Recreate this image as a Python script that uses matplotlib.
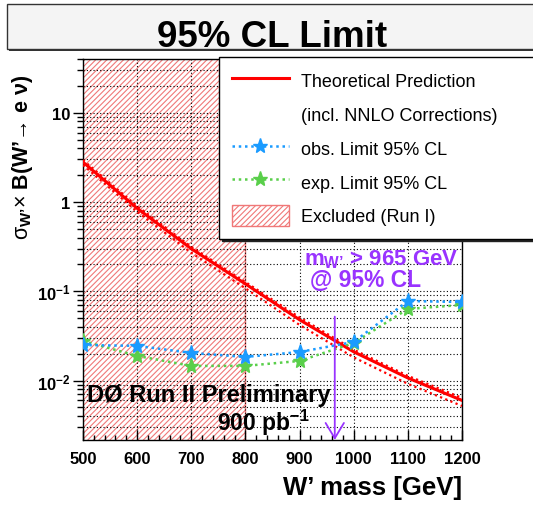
import matplotlib
matplotlib.use("Agg")
import matplotlib.pyplot as plt
from matplotlib.patches import Rectangle, Patch
from matplotlib.lines import Line2D
from matplotlib.ticker import FixedLocator, MultipleLocator, NullFormatter

plt.rcParams["font.family"] = ["Liberation Sans", "DejaVu Sans"]
plt.rcParams["mathtext.fontset"] = "custom"
plt.rcParams["mathtext.rm"] = "Liberation Sans"
plt.rcParams["mathtext.bf"] = "Liberation Sans:bold"
plt.rcParams["mathtext.it"] = "Liberation Sans:italic"
plt.rcParams["hatch.linewidth"] = 0.8

# --- data (W' mass in GeV, sigma x B in pb) ---
mass = [500, 600, 700, 800, 900, 1000, 1100, 1200]
theory = [2.8, 0.85, 0.30, 0.121, 0.048, 0.021, 0.0107, 0.0060]
theory_up = [2.95, 0.90, 0.315, 0.127, 0.051, 0.0222, 0.0113, 0.0064]
theory_dn = [2.6, 0.78, 0.27, 0.108, 0.042, 0.0182, 0.0092, 0.0052]
obs_limit = [0.0250, 0.0245, 0.0204, 0.0184, 0.0209, 0.0271, 0.0778, 0.0759]
exp_limit = [0.0278, 0.0189, 0.0146, 0.0146, 0.0166, 0.0264, 0.0634, 0.0703]
run1_excl = (500, 800)
mass_limit = 965

RED = "#ff0000"
HATCH = "#f07878"
BLUE = "#1a9bff"
GREEN = "#59cf4a"
VIOLET = "#9933ff"

fig = plt.figure(figsize=(5.33, 5.06), dpi=100)
W, H = 533.0, 506.0

# title box (ROOT pave with shadow)
fig.patches.append(Rectangle((9 / W, 1 - 52 / H), 1.0, 45 / H, transform=fig.transFigure,
                             facecolor="#333333", edgecolor="none"))
fig.patches.append(Rectangle((7 / W, 1 - 50 / H), 1.0, 45 / H, transform=fig.transFigure,
                             facecolor="#f4f4f4", edgecolor="#333333", lw=1.0))
fig.text(272 / W, 1 - 47 / H, "95% CL Limit", fontsize=26.5, fontweight="bold",
         ha="center", va="baseline")

ax = fig.add_axes([83 / W, 1 - 441 / H, 379 / W, 381 / H])
ax.set_yscale("log")
ax.set_xlim(500, 1200)
ax.set_ylim(0.00216, 40)

excl = ax.axvspan(*run1_excl, facecolor="none", edgecolor=HATCH, hatch="//////",
                  lw=0, zorder=1)
ax.axvline(run1_excl[1], color=HATCH, lw=1.0, zorder=1)

dots = (0, (1, 1.5))
ax.plot(mass, theory_up, color=RED, ls=dots, lw=1.6, zorder=3)
ax.plot(mass, theory_dn, color=RED, ls=dots, lw=1.6, zorder=3)
ax.plot(mass, theory, color=RED, lw=2.2, zorder=4)
ax.plot(mass, exp_limit, color=GREEN, ls=dots, lw=1.8, marker="*", ms=11, zorder=5)
ax.plot(mass, obs_limit, color=BLUE, ls=dots, lw=1.8, marker="*", ms=11, zorder=5)

ax.annotate("", xy=(mass_limit, 0.00216), xytext=(mass_limit, 0.052),
            arrowprops=dict(arrowstyle="->,head_length=0.55,head_width=0.33",
                            color=VIOLET, lw=1.3, shrinkA=0, shrinkB=0,
                            mutation_scale=20), zorder=6)
fig.text(459 / W, 1 - 265 / H, "m$_{\\mathbf{W’}}$ > 965 GeV", color=VIOLET,
         fontsize=16, fontweight="bold", ha="right", va="baseline")
fig.text(366 / W, 1 - 287 / H, "@ 95% CL", color=VIOLET, fontsize=16.5,
         fontweight="bold", ha="center", va="baseline")
fig.text(87 / W, 1 - 402 / H, "DØ Run II Preliminary", fontsize=17,
         fontweight="bold", ha="left", va="baseline")
fig.text(310 / W, 1 - 431 / H, "900 pb$^{\\mathbf{-1}}$", fontsize=16.5,
         fontweight="bold", ha="right", va="baseline")

# grid and ticks
ax.xaxis.set_major_locator(MultipleLocator(100))
ax.xaxis.set_minor_locator(MultipleLocator(20))
ax.yaxis.set_major_locator(FixedLocator([0.01, 0.1, 1, 10]))
minors = [m * 10.0 ** e for e in range(-3, 2) for m in range(2, 10)]
ax.yaxis.set_minor_locator(FixedLocator(minors))
ax.yaxis.set_minor_formatter(NullFormatter())
ax.set_yticklabels(["10$^{\\mathbf{-2}}$", "10$^{\\mathbf{-1}}$", "1", "10"])
ax.grid(which="major", ls=(0, (1, 2)), color="k", lw=0.8)
ax.grid(which="minor", axis="y", ls=(0, (1, 2)), color="k", lw=0.8)
ax.tick_params(axis="x", which="major", direction="in", length=7, width=1,
               labelsize=12, pad=8)
ax.tick_params(axis="x", which="minor", direction="in", length=3.5, width=1)
ax.tick_params(axis="y", which="major", direction="out", length=7, width=1,
               labelsize=12, pad=2)
ax.tick_params(axis="y", which="minor", direction="out", length=4, width=1)
for lab in ax.get_xticklabels() + ax.get_yticklabels():
    lab.set_fontweight("bold")
for sp in ax.spines.values():
    sp.set_linewidth(1.0)

ax.set_xlabel("W’ mass [GeV]", fontsize=18.5, fontweight="bold", loc="right", va="center")
ax.xaxis.set_label_coords(1.0, -(488 - 441) / 381)
ax.set_ylabel(r"$\mathrm{\sigma}_{\mathbf{W’}}\mathrm{\times}$ B(W’→ e ν)",
              fontsize=15.5, fontweight="bold", va="center")
ax.yaxis.set_label_coords(-(83 - 23) / 379, (441 - 157) / 381)

handles = [
    Line2D([], [], color=RED, lw=2.2),
    Line2D([], [], color="none"),
    Line2D([], [], color=BLUE, ls=dots, lw=1.8, marker="*", ms=11),
    Line2D([], [], color=GREEN, ls=dots, lw=1.8, marker="*", ms=11),
    Patch(facecolor="none", edgecolor=HATCH, hatch="//////", lw=1.0),
]
labels = ["Theoretical Prediction", "(incl. NNLO Corrections)", "obs. Limit 95% CL",
          "exp. Limit 95% CL", "Excluded (Run I)"]
leg = ax.legend(handles, labels, loc="upper left", mode="expand",
                bbox_to_anchor=(219 / W, 0.0, 340 / W, 1 - 58 / H),
                bbox_transform=fig.transFigure, borderaxespad=0, fontsize=13,
                handlelength=3.15, handleheight=1.4, handletextpad=0.7,
                labelspacing=0.72, borderpad=0.7, fancybox=False, framealpha=1,
                edgecolor="black", shadow={"color": "#222222", "alpha": 1})
leg.get_frame().set_linewidth(1.0)
leg.set_zorder(10)

fig.savefig("out.png", dpi=100)
